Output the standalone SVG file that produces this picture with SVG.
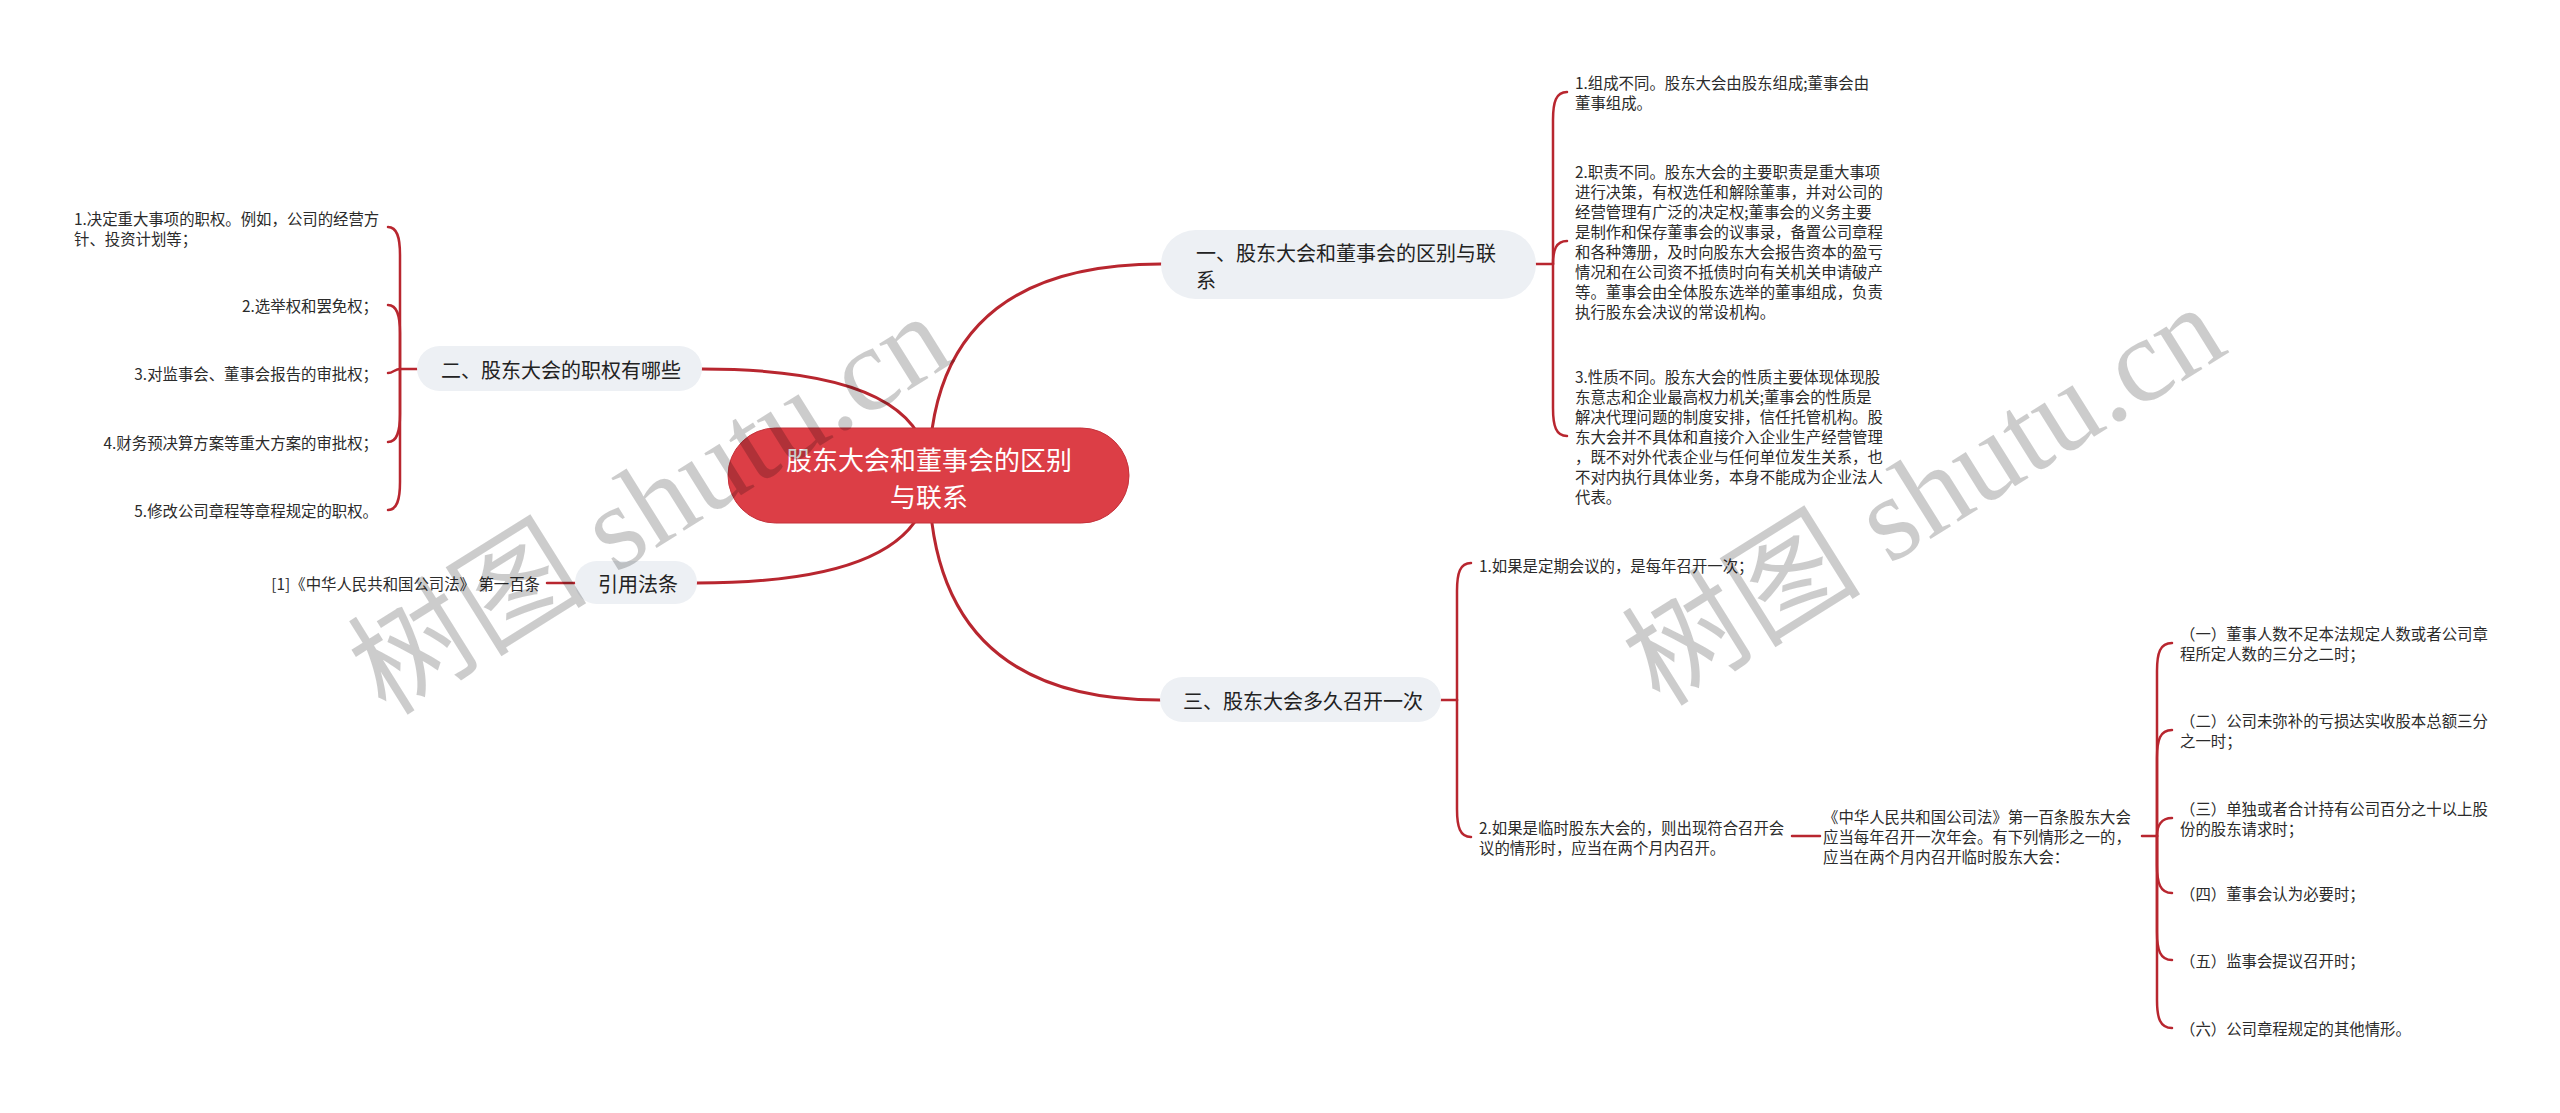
<svg xmlns="http://www.w3.org/2000/svg" width="2560" height="1113" viewBox="0 0 2560 1113">
<style>
.bg{fill:#ffffff}
.ln{fill:none;stroke:#b8262f;stroke-width:2.5;stroke-linecap:round}
.mn{fill:none;stroke:#b8262f;stroke-width:3;stroke-linecap:round}
.pill{fill:#edf0f4}
.root{fill:#dc3e46;stroke:#c5323b;stroke-width:1}
text{font-family:"Noto Sans CJK SC","Noto Sans",sans-serif;dominant-baseline:central}
.rt{font-size:26px;fill:#ffffff;text-anchor:middle}
.bt{font-size:20px;fill:#222222}
.it{font-size:15.4px;fill:#2b2b2b}
.end{text-anchor:end}
.wm{font-family:"Liberation Serif","Noto Sans CJK SC",serif;font-size:120px;fill:#000000;fill-opacity:0.2;dominant-baseline:auto}
</style>
<rect class="bg" x="0" y="0" width="2560" height="1113"/>
<g id="connectors">
<path class="mn" d="M 929 475 Q 929 264 1161 264"/>
<path class="mn" d="M 929 475 Q 929 369 702 369"/>
<path class="mn" d="M 929 475 Q 929 583 697 583"/>
<path class="mn" d="M 929 475 Q 929 700 1160 700"/>
<path class="ln" d="M 417 369 H 400"/>
<path class="ln" d="M 400 369 V 255 C 400 237 397 227 388 227"/>
<path class="ln" d="M 400 369 V 333 C 400 315 397 305 388 305"/>
<path class="ln" d="M 400 369 C 395 369 393 373 388 373"/>
<path class="ln" d="M 400 369 V 414 C 400 432 397 442 388 442"/>
<path class="ln" d="M 400 369 V 482 C 400 500 397 510 388 510"/>
<path class="ln" d="M 547 583 H 575"/>
<path class="ln" d="M 1536 264 H 1553"/>
<path class="ln" d="M 1553 264 V 120 C 1553 102 1556 92 1567 92"/>
<path class="ln" d="M 1553 264 C 1553 250 1556 241 1567 241"/>
<path class="ln" d="M 1553 264 V 408 C 1553 426 1556 436 1567 436"/>
<path class="ln" d="M 1441 700 H 1457"/>
<path class="ln" d="M 1457 700 V 591 C 1457 573 1460 563 1471 563"/>
<path class="ln" d="M 1457 700 V 809 C 1457 827 1460 837 1471 837"/>
<path class="ln" d="M 1792 836 H 1820"/>
<path class="ln" d="M 2142 836 H 2157"/>
<path class="ln" d="M 2157 836 V 671 C 2157 653 2160 643 2172 643"/>
<path class="ln" d="M 2157 836 V 758 C 2157 740 2160 730 2172 730"/>
<path class="ln" d="M 2157 836 C 2157 826 2161 818 2172 818"/>
<path class="ln" d="M 2157 836 V 865 C 2157 883 2160 893 2172 893"/>
<path class="ln" d="M 2157 836 V 932 C 2157 950 2160 960 2172 960"/>
<path class="ln" d="M 2157 836 V 1000 C 2157 1018 2160 1028 2172 1028"/>
</g>
<g id="root">
<rect class="root" x="728" y="428" width="401" height="95" rx="47.5"/>
<text class="rt" x="929" y="458">股东大会和董事会的区别</text>
<text class="rt" x="929" y="495">与联系</text>
</g>
<g id="b1">
<rect class="pill" x="1161" y="230" width="375" height="69" rx="34.5"/>
<text class="bt" x="1196" y="252">一、股东大会和董事会的区别与联</text>
<text class="bt" x="1196" y="279">系</text>
</g>
<g id="b1-1">
<text class="it" x="1575"><tspan x="1575" y="82">1.组成不同。股东大会由股东组成;董事会由</tspan><tspan x="1575" y="102">董事组成。</tspan></text>
</g>
<g id="b1-2">
<text class="it"><tspan x="1575" y="171">2.职责不同。股东大会的主要职责是重大事项</tspan><tspan x="1575" y="191">进行决策，有权选任和解除董事，并对公司的</tspan><tspan x="1575" y="211">经营管理有广泛的决定权;董事会的义务主要</tspan><tspan x="1575" y="231">是制作和保存董事会的议事录，备置公司章程</tspan><tspan x="1575" y="251">和各种簿册，及时向股东大会报告资本的盈亏</tspan><tspan x="1575" y="271">情况和在公司资不抵债时向有关机关申请破产</tspan><tspan x="1575" y="291">等。董事会由全体股东选举的董事组成，负责</tspan><tspan x="1575" y="311">执行股东会决议的常设机构。</tspan></text>
</g>
<g id="b1-3">
<text class="it"><tspan x="1575" y="376">3.性质不同。股东大会的性质主要体现体现股</tspan><tspan x="1575" y="396">东意志和企业最高权力机关;董事会的性质是</tspan><tspan x="1575" y="416">解决代理问题的制度安排，信任托管机构。股</tspan><tspan x="1575" y="436">东大会并不具体和直接介入企业生产经营管理</tspan><tspan x="1575" y="456">，既不对外代表企业与任何单位发生关系，也</tspan><tspan x="1575" y="476">不对内执行具体业务，本身不能成为企业法人</tspan><tspan x="1575" y="496">代表。</tspan></text>
</g>
<g id="b2">
<rect class="pill" x="417" y="346" width="285" height="45" rx="22.5"/>
<text class="bt" x="441" y="369">二、股东大会的职权有哪些</text>
</g>
<g id="b2-1">
<text class="it"><tspan x="74" y="218">1.决定重大事项的职权。例如，公司的经营方</tspan><tspan x="74" y="238">针、投资计划等；</tspan></text>
</g>
<g id="b2-2"><text class="it end" x="378" y="305">2.选举权和罢免权；</text></g>
<g id="b2-3"><text class="it end" x="378" y="373">3.对监事会、董事会报告的审批权；</text></g>
<g id="b2-4"><text class="it end" x="378" y="442">4.财务预决算方案等重大方案的审批权；</text></g>
<g id="b2-5"><text class="it end" x="378" y="510">5.修改公司章程等章程规定的职权。</text></g>
<g id="b4">
<rect class="pill" x="575" y="561" width="122" height="43" rx="21.5"/>
<text class="bt" x="598" y="583">引用法条</text>
</g>
<g id="b4-1"><text class="it end" x="540" y="583">[1]《中华人民共和国公司法》 第一百条</text></g>
<g id="b3">
<rect class="pill" x="1160" y="677" width="281" height="45" rx="22.5"/>
<text class="bt" x="1183" y="700">三、股东大会多久召开一次</text>
</g>
<g id="b3-1"><text class="it" x="1479" y="565">1.如果是定期会议的，是每年召开一次；</text></g>
<g id="b3-2">
<text class="it"><tspan x="1479" y="827">2.如果是临时股东大会的，则出现符合召开会</tspan><tspan x="1479" y="847">议的情形时，应当在两个月内召开。</tspan></text>
</g>
<g id="b3-2-1">
<text class="it"><tspan x="1823" y="816">《中华人民共和国公司法》第一百条股东大会</tspan><tspan x="1823" y="836">应当每年召开一次年会。有下列情形之一的，</tspan><tspan x="1823" y="856">应当在两个月内召开临时股东大会：</tspan></text>
</g>
<g id="c1"><text class="it"><tspan x="2180" y="633">（一）董事人数不足本法规定人数或者公司章</tspan><tspan x="2180" y="653">程所定人数的三分之二时；</tspan></text></g>
<g id="c2"><text class="it"><tspan x="2180" y="720">（二）公司未弥补的亏损达实收股本总额三分</tspan><tspan x="2180" y="740">之一时；</tspan></text></g>
<g id="c3"><text class="it"><tspan x="2180" y="808">（三）单独或者合计持有公司百分之十以上股</tspan><tspan x="2180" y="828">份的股东请求时；</tspan></text></g>
<g id="c4"><text class="it" x="2180" y="893">（四）董事会认为必要时；</text></g>
<g id="c5"><text class="it" x="2180" y="960">（五）监事会提议召开时；</text></g>
<g id="c6"><text class="it" x="2180" y="1028">（六）公司章程规定的其他情形。</text></g>
<g id="watermark">
<text class="wm" transform="translate(386 717) rotate(-32)">树图 shutu.cn</text>
<text class="wm" transform="translate(1660 708) rotate(-32)">树图 shutu.cn</text>
</g>
</svg>
